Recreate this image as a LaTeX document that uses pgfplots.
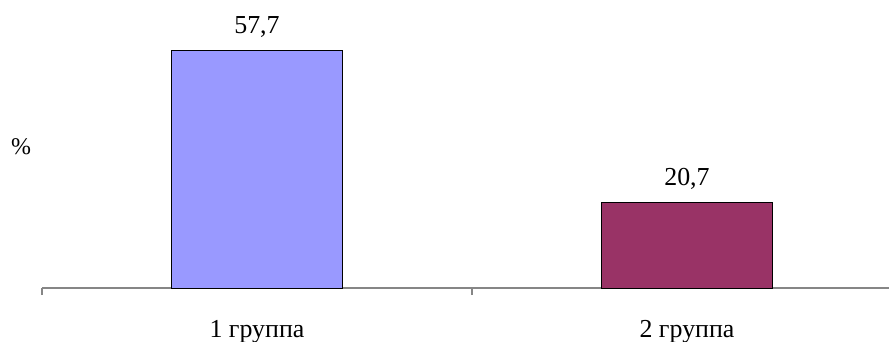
\documentclass[border=0pt]{standalone}
\usepackage{pgfplots}
\pgfplotsset{compat=1.18}
\usepackage{fontspec}
\setmainfont{Liberation Serif}
\newfontfamily\tnr{Liberation Serif}
\definecolor{barA}{HTML}{9999FF}
\definecolor{barB}{HTML}{993366}
\definecolor{axgray}{HTML}{868686}
\begin{document}
\begin{tikzpicture}[font=\tnr\fontsize{26}{30}\selectfont]
\useasboundingbox (0,0) rectangle (889bp,342bp);
\begin{axis}[
  at={(42bp,54bp)}, anchor=south west,
  width=860bp, height=288bp, scale only axis,
  xmin=0, xmax=2, ymin=0, ymax=70,
  hide y axis,
  axis x line*=bottom,
  x axis line style={axgray, line width=1.2pt, -},
  xtick={0,1,2}, xticklabels={},
  tick align=outside, major tick length=7bp,
  x tick style={axgray, line width=1.2pt},
  ybar, bar width=171bp,
  nodes near coords,
  /pgf/number format/.cd, use comma, fixed, fixed zerofill, precision=1, assume math mode=true, /pgfplots/.cd,
  every node near coord/.append style={font=\tnr\fontsize{26}{30}\selectfont, black, anchor=base, yshift=17bp},
  clip=false,
]
\addplot[fill=barA, draw=black, line width=1pt, bar shift=0pt] coordinates {(0.5,57.7)};
\addplot[fill=barB, draw=black, line width=1pt, bar shift=0pt] coordinates {(1.5,20.7)};
\node[anchor=base, font=\tnr\fontsize{26}{30}\selectfont] at (axis cs:0.5,0) [yshift=-49bp] {1 группа};
\node[anchor=base, font=\tnr\fontsize{26}{30}\selectfont] at (axis cs:1.5,0) [yshift=-49bp] {2 группа};
\end{axis}
\node[font=\tnr\fontsize{24}{28}\selectfont] at (21bp,195.5bp) {\%};
\end{tikzpicture}
\end{document}
